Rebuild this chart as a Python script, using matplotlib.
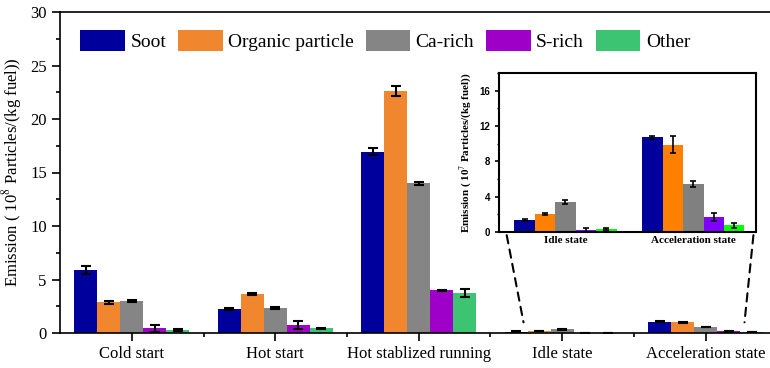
"""Particle emission by driving state, with an inset for the small groups."""

import numpy as np
import matplotlib
matplotlib.use('Agg')
import matplotlib.pyplot as plt
from matplotlib.patches import ConnectionPatch
from matplotlib.ticker import MultipleLocator

plt.rcParams['font.family'] = ['Liberation Serif', 'DejaVu Serif']
plt.rcParams['mathtext.fontset'] = 'stix'

states = ['Cold start', 'Hot start', 'Hot stablized running', 'Idle state',
          'Acceleration state']
types = ['Soot', 'Organic particle', 'Ca-rich', 'S-rich', 'Other']

# main chart, 10^8 particles / kg fuel (rows = particle type, cols = state)
soot = [5.9, 2.24, 16.95, 0.14, 1.07]
organic = [2.87, 3.64, 22.6, 0.20, 0.99]
ca_rich = [2.96, 2.34, 14.0, 0.34, 0.55]
s_rich = [0.44, 0.75, 4.0, 0.02, 0.18]
other = [0.28, 0.44, 3.75, 0.03, 0.08]

soot_err = [0.35, 0.12, 0.33, 0.02, 0.02]
organic_err = [0.15, 0.1, 0.45, 0.02, 0.08]
ca_rich_err = [0.1, 0.1, 0.15, 0.03, 0.03]
s_rich_err = [0.3, 0.33, 0.05, 0.02, 0.04]
other_err = [0.1, 0.05, 0.4, 0.01, 0.02]

# inset, 10^7 particles / kg fuel
inset_states = ['Idle state', 'Acceleration state']
inset_vals = [[1.4, 10.7], [2.0, 9.9], [3.4, 5.45], [0.2, 1.75], [0.3, 0.75]]
inset_errs = [[0.1, 0.15], [0.1, 1.0], [0.25, 0.3], [0.2, 0.45], [0.1, 0.25]]

main_colors = ['#00009c', '#f0862e', '#858585', '#9e00c8', '#3cc472']
inset_colors = ['#00009c', '#ff8000', '#808080', '#8000ff', '#00ff00']

values = [soot, organic, ca_rich, s_rich, other]
errors = [soot_err, organic_err, ca_rich_err, s_rich_err, other_err]

fig = plt.figure(figsize=(7.7, 3.68), dpi=100)
ax = fig.add_axes([60 / 770, 35 / 368, 717.5 / 770, 321 / 368])

x = np.arange(len(states))
w = 0.16
for i, (vals, errs) in enumerate(zip(values, errors)):
    ax.bar(x + (i - 2) * w, vals, w, color=main_colors[i], label=types[i],
           yerr=errs, capsize=3.5,
           error_kw=dict(ecolor='black', elinewidth=1.5, capthick=1.5))

ax.set_xlim(-0.5, 4.5)
ax.set_ylim(0, 30)
ax.set_xticks(x)
ax.set_xticklabels(states, fontsize=12)
ax.set_xticks(x[:-1] + 0.5, minor=True)
ax.yaxis.set_major_locator(MultipleLocator(5))
ax.yaxis.set_minor_locator(MultipleLocator(2.5))
ax.tick_params(axis='both', which='major', direction='out', length=6,
               width=1.2, labelsize=12)
ax.tick_params(axis='both', which='minor', direction='out', length=3,
               width=1.2)
ax.set_ylabel('Emission ( 10$^8$ Particles/(kg fuel))', fontsize=12,
              labelpad=4)
for s in ax.spines.values():
    s.set_linewidth(1.2)

ax.legend(loc='upper left', bbox_to_anchor=(0.012, 0.98), ncol=5,
          frameon=False, fontsize=14, handlelength=2.3, handleheight=1.3,
          handletextpad=0.28, columnspacing=0.6, borderaxespad=0.2)

# inset
axi = fig.add_axes([499 / 770, 136 / 368, 257 / 770, 159 / 368])
xi = np.arange(len(inset_states))
for i in range(len(types)):
    axi.bar(xi + (i - 2) * w, inset_vals[i], w, color=inset_colors[i],
            yerr=inset_errs[i], capsize=2.5,
            error_kw=dict(ecolor='black', elinewidth=1.2, capthick=1.2))
axi.set_xlim(-0.52, 1.49)
axi.set_ylim(0, 18)
axi.set_xticks(xi)
axi.set_xticklabels(inset_states, fontsize=8, fontweight='bold')
axi.yaxis.set_major_locator(MultipleLocator(4))
axi.yaxis.set_minor_locator(MultipleLocator(2))
axi.tick_params(axis='x', length=0, pad=3)
axi.tick_params(axis='y', which='major', direction='out', length=3,
                width=1.2, labelsize=7)
axi.tick_params(axis='y', which='minor', direction='out', length=1.5,
                width=1.0)
for lab in axi.get_yticklabels():
    lab.set_fontfamily('Liberation Sans')
    lab.set_fontweight('bold')
axi.set_ylabel('Emission ( 10$^7$ Particles/(kg fuel))', fontsize=8,
               fontweight='bold', labelpad=4)
for s in axi.spines.values():
    s.set_linewidth(1.5)

# dashed connectors from the inset to the zoomed groups
for xa, xb in ((0.03, 3 - 2 * w + 0.05), (0.99, 4 + 2 * w - 0.05)):
    con = ConnectionPatch(xyA=(xa, -0.02), coordsA=axi.transAxes,
                          xyB=(xb, 1.0), coordsB=ax.transData,
                          linestyle=(0, (4, 3)), linewidth=1.5, color='black')
    fig.add_artist(con)

fig.savefig('out.png', dpi=100)
plt.close(fig)
